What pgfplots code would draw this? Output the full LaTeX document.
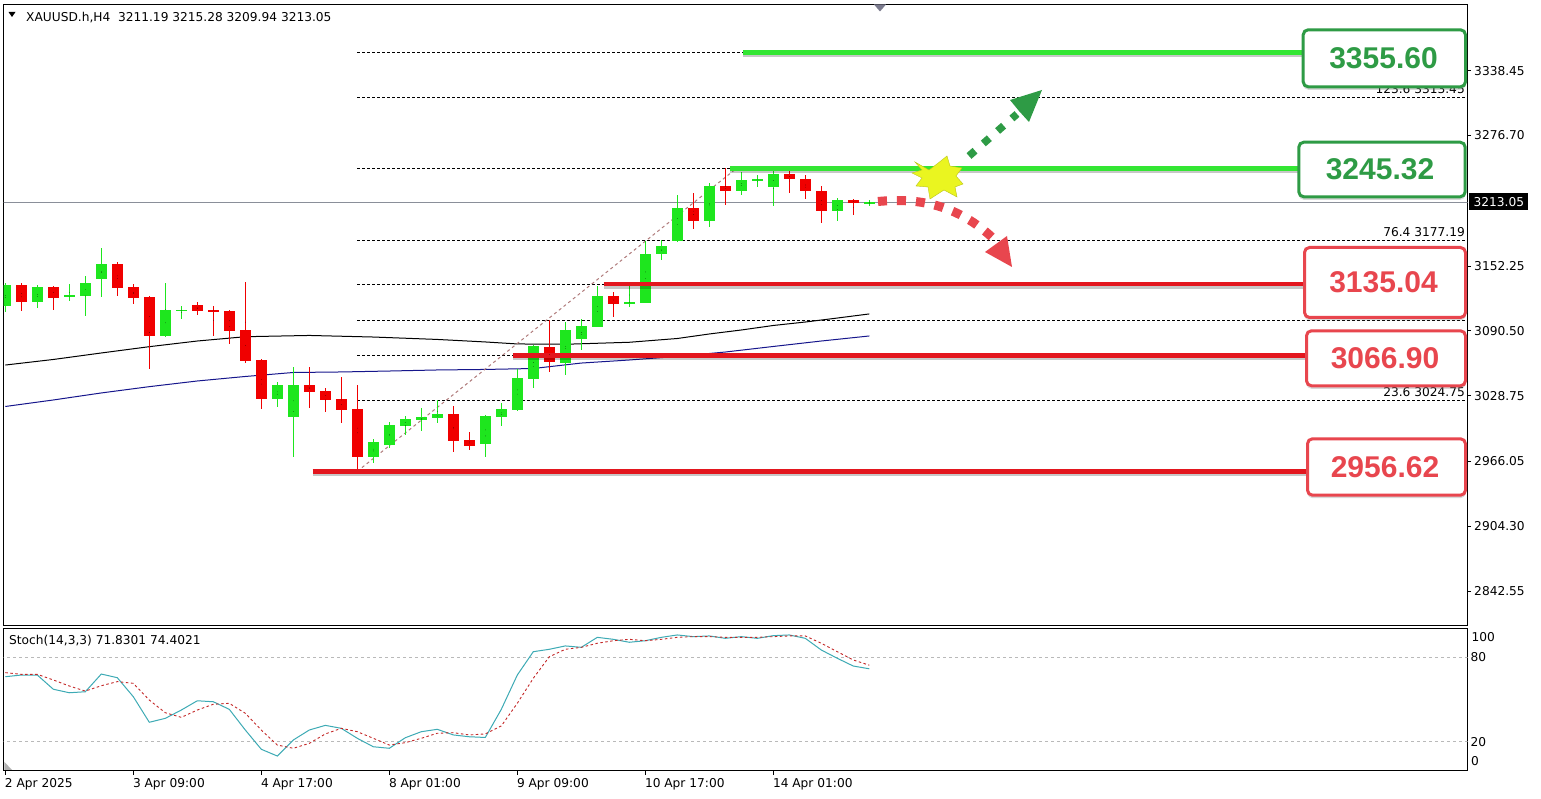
\documentclass[border=0pt]{standalone}
\usepackage{pgfplots}
\pgfplotsset{compat=1.18}
\usepackage{pgfplotstable}
\usepackage{fontspec}
\setmainfont{DejaVu Sans}
\newfontfamily\boxfont{Liberation Sans}
\usetikzlibrary{shadows}

\definecolor{bull}{HTML}{1EE61E}
\definecolor{bear}{HTML}{F00000}
\definecolor{resgreen}{HTML}{33E633}
\definecolor{boxgreen}{HTML}{2E9B45}
\definecolor{supred}{HTML}{E3161E}
\definecolor{boxred}{HTML}{E8464E}
\definecolor{stochmain}{HTML}{3DAAB5}
\definecolor{stochsig}{HTML}{C42828}
\definecolor{maBlue}{HTML}{16168C}
\definecolor{fibtrend}{HTML}{B07B7B}
\definecolor{starY}{HTML}{EAF520}
\definecolor{curline}{HTML}{8A8F99}

\newcommand\tickfont{\fontsize{12.2bp}{14bp}\selectfont}
\newcommand\bigfont{\boxfont\bfseries\fontsize{30bp}{32bp}\selectfont}

\pgfplotstableread{
k o h l c
0 3114.5 3136.1 3108.8 3134.2
2 3118.3 3134.2 3112.6 3132.3
4 3122.5 3135.4 3118.9 3124.7
5 3124.0 3142.8 3104.7 3136.1
6 3140.2 3169.2 3123.0 3154.2
10 3085.9 3136.4 3085.0 3110.4
11 3109.6 3114.5 3101.8 3110.5
17 3025.8 3042.0 3018.2 3038.9
18 3008.7 3056.3 2970.6 3038.9
23 2970.6 2987.2 2964.8 2984.9
24 2981.7 3003.9 2978.6 3000.8
25 3000.1 3009.4 2991.2 3006.5
26 3005.5 3016.7 2995.0 3008.1
27 3007.7 3024.6 3003.0 3011.0
30 2982.7 3010.0 2970.6 3009.4
31 3008.7 3021.4 2999.8 3016.0
32 3015.1 3053.9 3014.5 3045.3
33 3044.6 3076.8 3036.0 3076.1
35 3059.6 3099.2 3048.4 3091.3
36 3082.7 3101.5 3072.2 3095.1
37 3094.5 3133.2 3094.0 3123.7
39 3116.8 3135.8 3113.5 3117.8
40 3117.3 3176.4 3116.8 3163.7
41 3163.4 3177.1 3158.0 3171.4
42 3176.1 3220.0 3175.5 3207.3
44 3195.5 3231.1 3189.8 3228.5
46 3224.1 3242.2 3220.0 3234.3
47 3233.8 3239.0 3227.3 3234.8
48 3227.9 3243.0 3209.5 3239.7
52 3205.0 3216.8 3195.5 3215.2
54 3211.19 3215.28 3209.94 3213.05
}\bulltable

\pgfplotstableread{
k o h l c
1 3134.2 3136.4 3109.4 3118.3
3 3132.3 3133.0 3110.4 3122.1
7 3154.2 3156.4 3124.0 3131.6
8 3132.3 3135.4 3116.4 3122.1
9 3122.8 3123.7 3054.1 3085.9
12 3115.1 3118.3 3105.6 3109.7
13 3110.7 3114.5 3085.9 3108.8
14 3109.7 3110.5 3078.3 3090.6
15 3091.3 3137.3 3060.2 3062.1
16 3062.7 3063.5 3016.0 3025.8
19 3038.9 3056.3 3017.3 3032.5
20 3033.5 3035.8 3013.4 3024.6
21 3025.6 3046.8 3002.4 3015.1
22 3016.0 3038.9 2956.62 2970.6
28 3011.3 3018.9 2975.3 2985.8
29 2986.5 2993.8 2977.0 2980.8
34 3075.4 3100.8 3051.6 3060.5
38 3123.7 3127.8 3104.0 3116.1
43 3207.3 3221.6 3187.6 3195.5
45 3228.5 3245.32 3210.4 3224.1
49 3240.0 3245.0 3221.6 3234.9
50 3234.9 3239.0 3215.9 3224.1
51 3224.1 3228.5 3193.6 3205.0
53 3215.2 3215.7 3200.9 3212.1
}\beartable

\pgfplotstableread{
k v
0 3057.9
3 3063.2
6 3069.4
9 3075.4
12 3080.8
15 3084.9
19 3086.1
23 3084.6
27 3082.3
30 3079.9
32 3078.0
35 3077.7
39 3079.6
42 3083.2
44 3087.5
46 3091.3
48 3095.6
50 3098.9
52 3102.7
54 3106.6
}\maBlack

\pgfplotstableread{
k v
0 3018.4
3 3024.6
6 3031.3
9 3037.3
12 3042.7
15 3047.0
18 3050.8
21 3051.3
24 3052.2
27 3053.2
30 3053.7
33 3054.6
36 3059.8
39 3062.7
42 3066.1
45 3070.3
48 3075.6
51 3080.8
54 3085.6
}\maNavy

\pgfplotstableread{
k m s
0 66.2 69.1
1 67.4 67.9
2 67.4 67.9
3 57.3 63.9
4 54.8 59.6
5 55.5 56.0
6 68.1 59.8
7 65.5 62.7
8 52.0 61.5
9 33.8 49.6
10 36.6 40.6
11 42.5 37.3
12 49.1 42.5
13 48.4 46.6
14 43.0 47.3
15 28.3 40.2
16 14.6 28.3
17 9.8 17.6
18 21.2 15.3
19 28.3 18.8
20 31.6 25.5
21 29.5 29.5
22 22.4 27.1
23 16.4 22.4
24 15.3 17.6
25 22.8 19.3
26 27.1 22.4
27 28.8 26.0
28 24.8 26.4
29 23.5 24.8
30 23.0 25.5
31 43.0 31.2
32 67.4 47.3
33 84.0 65.1
34 85.7 80.4
35 88.1 85.7
36 87.1 87.1
37 94.2 90.0
38 92.8 91.8
39 90.7 92.8
40 91.8 91.8
41 94.2 92.8
42 95.9 94.2
43 94.7 94.7
44 95.2 94.7
45 93.5 94.2
46 94.7 94.2
47 93.5 94.2
48 95.4 94.7
49 95.9 95.2
50 93.5 95.2
51 85.2 90.0
52 79.3 84.0
53 73.8 78.1
54 71.83 74.40
}\stochtable

\pgfplotsset{candle/.style={only marks, mark=*, mark size=0.01pt,
  mark options={draw=none, fill=none}, error bars/.cd, y dir=both, y explicit, error mark=none}}

\begin{document}
\begin{tikzpicture}
\useasboundingbox (0,0) rectangle (1541bp,799bp);
\fill[white] (0,0) rectangle (1541bp,799bp);

% ---------------- main price panel ----------------
\begin{axis}[
  at={(3.5bp,173.7bp)}, anchor=south west, scale only axis,
  width=1464bp, height=621.3bp,
  xmin=-0.1125, xmax=91.39, ymin=2809.86, ymax=3402.0,
  axis line style={black, line width=0.8bp},
  xtick=\empty,
  ytick={2842.55,2904.30,2966.05,3028.75,3090.50,3152.25,3276.70,3338.45},
  yticklabels={2842.55,2904.30,2966.05,3028.75,3090.50,3152.25,3276.70,3338.45},
  ytick pos=right, yticklabel pos=right,
  tick align=outside, major tick length=3.5bp,
  every tick/.style={black, line width=0.8bp},
  yticklabel style={font=\tickfont, anchor=west, inner sep=0pt, xshift=3bp},
]
% fibonacci levels
\foreach \lv in {3024.75,3066.90,3100.97,3135.04,3177.19,3245.32,3313.45,3355.60}{
  \edef\tmp{\noexpand\addplot[black, line width=0.6bp, dash pattern=on 3bp off 2bp] coordinates {(22,\lv) (92,\lv)};}
  \tmp
}
% current price line
\addplot[curline, line width=0.8bp] coordinates {(-1,3213.05) (92,3213.05)};
% moving averages
\addplot[black, line width=1bp] table[x=k,y=v]{\maBlack};
\addplot[maBlue, line width=1bp] table[x=k,y=v]{\maNavy};
% fib trend line
\addplot[fibtrend, line width=1bp, dash pattern=on 3bp off 3bp] coordinates {(22,2956.62) (45.7,3245.32)};
% candles: wicks
\addplot[candle, error bar style={line width=1.2bp, bull}]
  table[x=k, y expr={(\thisrow{h}+\thisrow{l})/2}, y error expr={(\thisrow{h}-\thisrow{l})/2}]{\bulltable};
\addplot[candle, error bar style={line width=1.2bp, bear}]
  table[x=k, y expr={(\thisrow{h}+\thisrow{l})/2}, y error expr={(\thisrow{h}-\thisrow{l})/2}]{\beartable};
% candles: bodies
\addplot[candle, error bar style={line width=10.7bp, bull}]
  table[x=k, y expr={(\thisrow{o}+\thisrow{c})/2}, y error expr={max(abs(\thisrow{c}-\thisrow{o}),1.0)/2}]{\bulltable};
\addplot[candle, error bar style={line width=10.7bp, bear}]
  table[x=k, y expr={(\thisrow{o}+\thisrow{c})/2}, y error expr={max(abs(\thisrow{c}-\thisrow{o}),1.0)/2}]{\beartable};
% support / resistance lines with shadow
\addplot[black, opacity=0.22, line width=4.5bp, yshift=-2.5bp] coordinates {(46.1,3355.60) (81.5,3355.60)};
\addplot[black, opacity=0.22, line width=4.5bp, yshift=-2.5bp] coordinates {(45.3,3245.32) (81.5,3245.32)};
\addplot[black, opacity=0.22, line width=4.5bp, yshift=-2.5bp] coordinates {(37.4,3135.04) (81.5,3135.04)};
\addplot[black, opacity=0.22, line width=4.5bp, yshift=-2.5bp] coordinates {(31.7,3066.90) (81.5,3066.90)};
\addplot[black, opacity=0.22, line width=4.5bp, yshift=-2.5bp] coordinates {(19.2,2956.62) (81.5,2956.62)};
\addplot[resgreen, line width=4.5bp] coordinates {(46.1,3355.60) (81.5,3355.60)};
\addplot[resgreen, line width=4.5bp] coordinates {(45.3,3245.32) (81.5,3245.32)};
\addplot[supred, line width=4.5bp] coordinates {(37.4,3135.04) (81.5,3135.04)};
\addplot[supred, line width=4.5bp] coordinates {(31.7,3066.90) (81.5,3066.90)};
\addplot[supred, line width=4.5bp] coordinates {(19.2,2956.62) (81.5,2956.62)};
\end{axis}

% ---------------- stochastic panel ----------------
\begin{axis}[
  at={(3.5bp,29bp)}, anchor=south west, scale only axis,
  width=1464bp, height=142bp,
  xmin=-0.1125, xmax=91.39, ymin=-0.14, ymax=100.85,
  axis line style={black, line width=0.8bp},
  ytick=\empty,
  xtick={0,8,16,24,32,40,48},
  xticklabels={2 Apr 2025,3 Apr 09:00,4 Apr 17:00,8 Apr 01:00,9 Apr 09:00,10 Apr 17:00,14 Apr 01:00},
  xtick pos=bottom, tick align=outside, major tick length=4.5bp,
  every tick/.style={black, line width=0.8bp},
  xticklabel style={font=\tickfont, anchor=north west, inner sep=0pt, xshift=-0.5bp, yshift=-3.5bp},
]
\addplot[gray!55, line width=0.6bp, dash pattern=on 3bp off 3bp] coordinates {(-1,80) (92,80)};
\addplot[gray!55, line width=0.6bp, dash pattern=on 3bp off 3bp] coordinates {(-1,20) (92,20)};
\addplot[stochmain, line width=1bp] table[x=k,y=m]{\stochtable};
\addplot[stochsig, line width=0.9bp, dash pattern=on 2.5bp off 2.5bp] table[x=k,y=s]{\stochtable};
\end{axis}

% ---------------- annotations in pixel coordinates ----------------
\begin{scope}[x=1bp, y=-1bp, shift={(0bp,799bp)}]
  \tickfont
  % header
  \fill[black] (8.5,12) -- (15.5,12) -- (12,17) -- cycle;
  \node[anchor=base west, inner sep=0pt] at (26,21.3) {XAUUSD.h,H4\ \ 3211.19 3215.28 3209.94 3213.05};
  \fill[gray!70!blue!40!black!60] (874,4.5) -- (886,4.5) -- (880,11.5) -- cycle;
  % stoch label and scale
  \node[anchor=base west, inner sep=0pt] at (9,645) {Stoch(14,3,3) 71.8301 74.4021};
  \node[anchor=west, inner sep=0pt] at (1471.5,637.3) {100};
  \node[anchor=west, inner sep=0pt] at (1470.5,657.3) {80};
  \node[anchor=west, inner sep=0pt] at (1470.5,741.7) {20};
  \node[anchor=west, inner sep=0pt] at (1471,761) {0};
  \fill[gray!60] (4.5,770) -- (4.5,762) -- (12,770) -- cycle;
  % fib level labels (the ones visible in the reference)
  \foreach \yy/\tx in {396.8/23.6 3024.75, 236.9/76.4 3177.19, 93.9/123.6 3313.45}
    \node[anchor=base east, inner sep=0pt] at (1465,\yy) {\tx};
  % current price tag
  \fill[black] (1469,193.5) rectangle (1528,210.5);
  \node[anchor=west, inner sep=0pt, white] at (1473.5,202.3) {3213.05};
  % green dotted arrow
  \draw[boxgreen, line width=7.5bp, dash pattern=on 8bp off 11bp] (969,156) -- (1017,114);
  \fill[boxgreen] (1042,90) -- (1010,100) -- (1019,111) -- (1029,122) -- cycle;
  % red dotted arrow
  \draw[boxred, line width=9bp, dash pattern=on 9bp off 10bp] (878,201.5) .. controls (925,197) and (962,208) .. (996,241);
  \fill[boxred] (1012,267) -- (985,252) -- (1007,236) -- cycle;
  % star burst
  \filldraw[fill=starY, draw=starY!80!black, line width=0.4bp] (915,162) -- (929,170) -- (937,164) -- (947,156) -- (950,166) -- (962,168) -- (956,176) -- (963,184) -- (955,187) -- (957,197) -- (944,190) -- (930,199) -- (928,187) -- (916,186) -- (922,178) -- (912,173) -- (922,170) -- cycle;
  % boxes
  \tikzset{lvlbox/.style={line width=3bp, rounded corners=5bp, fill=white, draw=#1,
      drop shadow={opacity=0.3, shadow xshift=0bp, shadow yshift=-3bp}}}
  \path[lvlbox=boxgreen] (1303.2,29.8) rectangle (1465.5,86.8);
  \node[text=boxgreen] at (1383.5,58.3) {\bigfont 3355.60};
  \path[lvlbox=boxgreen] (1298.8,142.2) rectangle (1465.2,196.8);
  \node[text=boxgreen] at (1380,169.5) {\bigfont 3245.32};
  \path[lvlbox=boxred] (1304.5,247.5) rectangle (1465.5,317.5);
  \node[text=boxred] at (1383.5,282) {\bigfont 3135.04};
  \path[lvlbox=boxred] (1306.5,330.8) rectangle (1465.5,385.8);
  \node[text=boxred] at (1385,358.3) {\bigfont 3066.90};
  \path[lvlbox=boxred] (1307.5,438.8) rectangle (1465.5,495.2);
  \node[text=boxred] at (1385,467) {\bigfont 2956.62};
\end{scope}
\end{tikzpicture}
\end{document}
